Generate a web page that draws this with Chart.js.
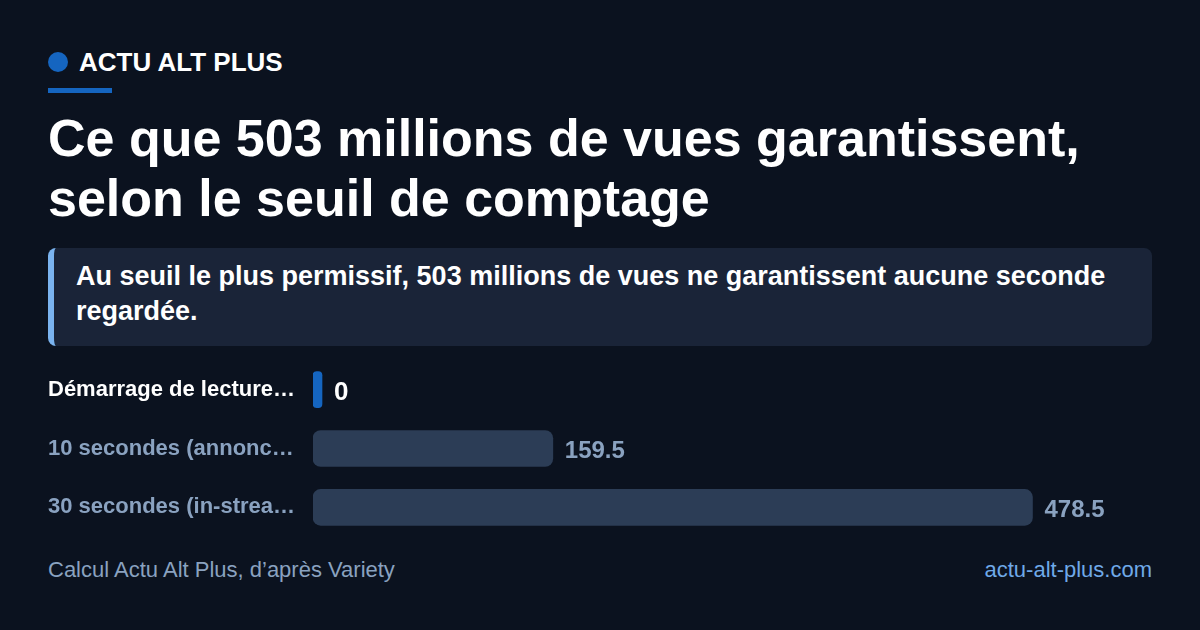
<!DOCTYPE html>
<html lang="fr">
<head>
<meta charset="utf-8">
<script src="https://cdn.jsdelivr.net/npm/chart.js@4.4.1/dist/chart.umd.min.js"></script>
<style>
  html, body { margin: 0; padding: 0; }
  body { width: 1200px; height: 630px; background: #0b121f; position: relative; overflow: hidden;
         font-family: "Liberation Sans", Arial, Helvetica, sans-serif; color: #fff; }
  .brand { position: absolute; left: 48px; top: 47px; height: 30px; display: flex; align-items: center; }
  .dot { width: 20px; height: 20px; border-radius: 50%; background: #1565c0; margin-right: 11px; }
  .brand span { font-weight: bold; font-size: 26px; line-height: 30px; }
  .rule { position: absolute; left: 48px; top: 88px; width: 64px; height: 5px; background: #1565c0; }
  h1 { position: absolute; left: 48px; top: 108px; margin: 0; width: 1110px; font-size: 52px; line-height: 60px; font-weight: bold; }
  .callout { position: absolute; left: 48px; top: 248px; width: 1104px; height: 98px; box-sizing: border-box;
             background: #1a2438; border-radius: 8px; border-left: 6px solid #7ab3ef; padding: 11px 30px 0 22px;
             font-size: 27px; line-height: 35px; font-weight: bold; }
  .chartbox { position: absolute; left: 48px; top: 347px; width: 1104px; height: 203px; }
  .foot { position: absolute; top: 557px; font-size: 22px; line-height: 26px; }
  .foot.l { left: 48px; color: #8aa2c0; }
  .foot.r { right: 48px; color: #6fa9e8; }
</style>
</head>
<body>
<div class="brand"><div class="dot"></div><span>ACTU ALT PLUS</span></div>
<div class="rule"></div>
<h1>Ce que 503 millions de vues garantissent,<br>selon le seuil de comptage</h1>
<div class="callout">Au seuil le plus permissif, 503 millions de vues ne garantissent aucune seconde regardée.</div>
<div class="chartbox"><canvas id="c"></canvas></div>
<div class="foot l">Calcul Actu Alt Plus, d’après Variety</div>
<div class="foot r">actu-alt-plus.com</div>
<script>
const categories = ["Démarrage de lecture…", "10 secondes (annonc…", "30 secondes (in-strea…"];
const values = [0, 159.5, 478.5];
const valueLabels = ["0", "159.5", "478.5"];

const HILITE = 0;
const FONT = '"Liberation Sans", Arial, Helvetica, sans-serif';

const valuePlugin = {
  id: 'valueLabels',
  afterDatasetsDraw(chart) {
    const ctx = chart.ctx;
    const meta = chart.getDatasetMeta(0);
    ctx.save();
    ctx.textAlign = 'left';
    ctx.textBaseline = 'middle';
    meta.data.forEach((bar, i) => {
      ctx.font = 'bold ' + (i === HILITE ? 26 : 24) + 'px ' + FONT;
      ctx.fillStyle = i === HILITE ? '#ffffff' : '#8aa2c0';
      ctx.fillText(valueLabels[i], bar.x + 12, bar.y + 3);
    });
    ctx.restore();
  }
};

new Chart(document.getElementById('c'), {
  type: 'bar',
  data: {
    labels: categories,
    datasets: [{
      data: values,
      backgroundColor: values.map((v, i) => i === HILITE ? '#1565c0' : '#2c3d56'),
      borderRadius: values.map(v => v === 0 ? 4 : 8),
      borderSkipped: false,
      minBarLength: 9,
      barThickness: 36
    }]
  },
  options: {
    indexAxis: 'y',
    responsive: true,
    maintainAspectRatio: false,
    animation: false,
    layout: { padding: 0 },
    plugins: { legend: { display: false }, tooltip: { enabled: false } },
    scales: {
      x: { display: false, min: 0, max: 558 },
      y: {
        grid: { display: false, drawTicks: false },
        border: { display: false },
        afterFit(scale) { scale.width = 265; },
        ticks: {
          crossAlign: 'far',
          padding: 0,
          font: { family: FONT, size: 22, weight: 'bold' },
          color: (c) => c.index === HILITE ? '#ffffff' : '#8aa2c0'
        }
      }
    }
  },
  plugins: [valuePlugin]
});
</script>
</body>
</html>
